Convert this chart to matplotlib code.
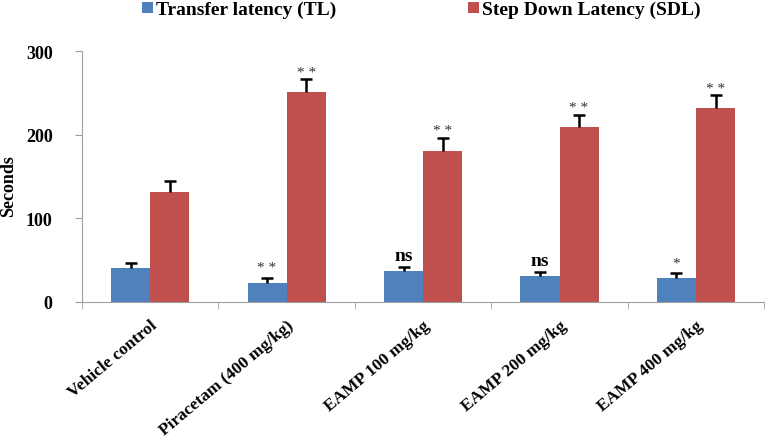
import numpy as np
import matplotlib
matplotlib.use("Agg")
import matplotlib.pyplot as plt

groups = ['Vehicle control', 'Piracetam (400 mg/kg)', 'EAMP 100 mg/kg',
          'EAMP 200 mg/kg', 'EAMP 400 mg/kg']
tl = [41, 23, 37, 31, 28]
tl_err = [5, 5, 5, 5, 6]
sdl = [131, 251, 181, 209, 232]
sdl_err = [14, 15, 15, 15, 15]
tl_sig = ['', '* *', 'ns', 'ns', '*']
sdl_sig = ['', '* *', '* *', '* *', '* *']

plt.rcParams['font.family'] = ['Liberation Serif', 'DejaVu Serif']

fig = plt.figure(figsize=(7.65, 4.39), dpi=100)
ax = fig.add_axes([0.107, 0.31, 0.892, 0.5715])

index = np.arange(len(groups))
bar_width = 0.286
blue = '#4F81BD'
red = '#C0504D'


def upper_err(x, y, err):
    # only the upper half of the error bar, like the original
    top = np.array(y) + np.array(err)
    ax.vlines(x, y, top, color='black', linewidth=1.8)
    ax.plot(x, top, linestyle='none', marker='_', markersize=9,
            markeredgewidth=1.8, color='black')


ax.bar(index - bar_width / 2, tl, bar_width, color=blue, label='Transfer latency (TL)')
ax.bar(index + bar_width / 2, sdl, bar_width, color=red, label='Step Down Latency (SDL)')
upper_err(index - bar_width / 2, tl, tl_err)
upper_err(index + bar_width / 2, sdl, sdl_err)

for i in range(len(groups)):
    s = tl_sig[i]
    if s == 'ns':
        ax.text(i - bar_width / 2, tl[i] + tl_err[i] + 3, s, ha='center', va='bottom',
                fontsize=14, fontweight='bold')
    elif s:
        ax.text(i - bar_width / 2, tl[i] + tl_err[i] + 5, s, ha='center', va='bottom',
                fontsize=11, color='#333333')
    s = sdl_sig[i]
    if s:
        ax.text(i + bar_width / 2, sdl[i] + sdl_err[i] + 1, s, ha='center', va='bottom',
                fontsize=11, color='#333333')

ax.set_xlim(-0.5, len(groups) - 0.5)
ax.set_ylim(0, 300)
ax.set_yticks([0, 100, 200, 300])
ax.set_yticklabels(['0', '100', '200', '300'], fontsize=13, fontweight='bold')
fig.text(9 / 765, 1 - 186 / 439, 'Seconds', rotation=90, ha='center', va='center',
         fontsize=13, fontweight='bold')

ax.set_xticks(index)
ax.set_xticklabels(groups, rotation=40, ha='right', rotation_mode='anchor',
                   fontsize=12.5, fontweight='bold')
ax.tick_params(axis='x', which='major', length=0, pad=11)
ax.set_xticks(np.arange(len(groups) + 1) - 0.5, minor=True)
ax.tick_params(axis='x', which='minor', length=5, color='#A0A0A0', direction='out')
ax.tick_params(axis='y', length=5, color='#A0A0A0', direction='out', pad=16)

for side in ['top', 'right']:
    ax.spines[side].set_visible(False)
ax.spines['left'].set_color('#A0A0A0')
ax.spines['bottom'].set_color('#A0A0A0')

fig.legend(loc='upper center', bbox_to_anchor=(0.551, 1.035), ncol=2, frameon=False,
           prop={'size': 14, 'weight': 'bold'}, handlelength=0.55, handleheight=0.55,
           handletextpad=0.15, columnspacing=6.8)

plt.savefig('out.png', dpi=100)
plt.close()
